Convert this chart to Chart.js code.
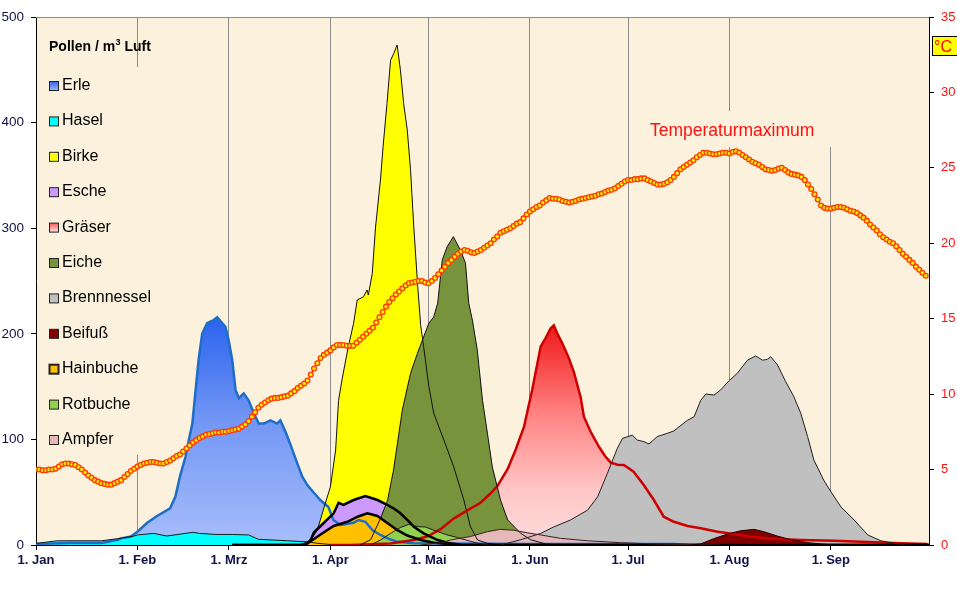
<!DOCTYPE html>
<html>
<head>
<meta charset="utf-8">
<script src="https://cdn.jsdelivr.net/npm/chart.js@4.4.1/dist/chart.umd.min.js"></script>
<style>
html,body{margin:0;padding:0;background:#fff;}
#wrap{width:957px;height:591px;position:relative;}
</style>
</head>
<body>
<div id="wrap"><canvas id="c" width="957" height="591"></canvas></div>
<script>
// ---- x axis (day of year, 0 = 1. Jan) ----
const monthStarts = [0, 31, 59, 90, 120, 151, 181, 212, 243];
const monthLabels = ['1. Jan', '1. Feb', '1. Mrz', '1. Apr', '1. Mai', '1. Jun', '1. Jul', '1. Aug', '1. Sep'];
const pollenTicks = [0, 100, 200, 300, 400, 500];
const tempTicks = [0, 5, 10, 15, 20, 25, 30, 35];

// ---- pollen series: [day, pollen / m3] ----
const erle = [[0,1],[10,2],[20,2],[25,5],[26,6.3],[29,8],[31,12.6],[34,21],[37,27.5],[41,34.7],[42.6,45.7],[44,64.7],[45.7,83.6],[46.7,99],[47.8,115],[48.7,143.6],[49.7,175],[50.8,200],[52.3,210],[54.3,213],[55.4,215.6],[56.4,212],[57.9,206.7],[58.9,194],[60,175],[61,146.8],[62,139],[63.5,143.6],[65,137],[66.6,124.7],[68.1,115],[69.6,115],[71.7,118],[73.7,115],[74.7,118],[76.3,107],[77.8,95],[79.9,77],[81.4,64.7],[82.9,57],[84.8,50],[86.9,42.6],[89.4,36],[90.9,23.7],[93.1,19],[97.1,21],[98.6,23.7],[100.7,22],[102.9,14],[105.3,9.5],[107.5,6.3],[110.5,3],[115.4,1.6],[150,1],[195,1],[200,0],[273,0]];
const hasel = [[0,1.5],[6.5,4],[20,4],[25,6],[30,8.5],[31,9.5],[36,11],[40,8.5],[48,12],[50,11],[55,10],[60,10],[65,9.5],[68,5.4],[77,4],[83,3],[86,1.6],[90,0.5],[95,0]];
const birke = [[81,0],[84,4.7],[86,14],[88,35],[90,55],[91.6,90],[92.5,137],[93.7,159],[95.5,188],[97.1,210],[98.2,232],[100.1,235],[101.2,241.5],[101.6,236.7],[102.8,257],[103.8,301],[105.3,345.6],[106.1,377],[107.3,418],[108.4,459],[109.4,465.6],[110.4,473.5],[111.4,450],[112.4,418],[113.5,393],[114.5,355],[115.5,301],[116.7,244.6],[117.6,208],[118.5,188],[120.1,150],[121.6,124.7],[124.7,99.4],[127.7,74],[130.8,42.6],[132.8,17.3],[135,4.7],[138,1.6],[142,0]];
const esche = [[60,0],[81,0],[83,1.5],[84,5],[85,12],[87,18],[91,30],[92.5,40],[94,38],[97.1,42.6],[100.7,46.4],[104.4,42.6],[106.9,38.8],[109.3,34.7],[111.4,30],[113.5,23.7],[115.5,17.3],[118.5,11],[122.8,4.7],[125.8,2.2],[130,0],[273,0]];
const graeser = [[90,0],[96,0],[108.4,1.5],[115.4,4.7],[119.6,8],[123.7,15],[127.7,25],[132,33],[135.9,40],[139,49],[141.1,56],[144.2,72],[146.6,90],[149.2,112],[151.7,147],[154.3,188],[155.8,196],[157.3,205],[158.3,208],[159.4,200],[160.9,191],[162.9,177],[164.5,163],[166.5,140],[167.5,121.5],[169.6,107],[172.1,93],[174,84],[175.7,78],[177.8,76],[179.7,75.8],[182.7,69.4],[185.8,56.8],[188.9,42.6],[191.9,26.8],[195,22],[199.2,18],[203.2,15.8],[208.4,12.6],[213.3,10.4],[218.5,7.9],[223.7,6.3],[228.6,5.4],[233.8,4.7],[244,4],[254.3,2.8],[264.4,1.6],[272.6,1]];
const eiche = [[99,0],[102.3,5],[105.3,25],[107.5,42.6],[109.3,71],[112,128],[114.5,162.6],[116.6,181.5],[118.5,197],[120.1,210],[121.6,216],[122.8,229],[124.2,270],[125.7,282.5],[127.6,292],[129.8,279],[131.3,266.8],[132.3,229],[133.4,213],[134.9,184.7],[136.5,137],[138,105.8],[139.5,74],[142,42.6],[144.2,23.7],[148.2,11],[151.2,5],[155.8,1],[160.4,0]];
const brennnessel = [[142,0],[148.2,5],[154.3,11],[158.2,17],[163.4,23.7],[168.6,33],[171.7,45.7],[174.7,68],[177.7,91.5],[179.3,101],[182.3,104],[183.8,99.4],[185.9,97.8],[187.4,95.6],[189.9,102.6],[193,105.8],[195,108],[199.1,118],[201.2,121.5],[203.2,137],[204.8,143],[207.3,142],[209.3,146.8],[211.9,155.6],[214.4,162.6],[217.5,175],[220,179],[222.1,175],[223.6,175.8],[224.6,178.3],[226.7,170.5],[229.2,154.6],[231.7,140.4],[233.8,124.7],[235.9,102.6],[237.8,80.5],[240.8,61.5],[243,50.5],[246.1,36],[250.1,23.7],[254.3,9.5],[258.3,4],[262.3,1.6],[266,0]];
const beifuss = [[200.2,0],[203.2,1],[207.2,6],[211.5,10.5],[215.5,13.5],[219.5,14.8],[222.5,12.6],[226.8,8.3],[230.8,5],[236,2.2],[239.9,1],[244.5,0]];
const hainbuche = [[60,0],[81,0],[83,1.5],[87,10],[91,18],[95.2,22],[98.3,26.8],[101.3,30],[104.4,27.5],[107.5,20.5],[110.5,14],[113.5,9],[117.6,4.7],[121.6,2.2],[125.8,1],[130,0],[273,0]];
const rotbuche = [[102.3,0],[105.3,4.7],[108.4,11],[111.4,16.5],[113.9,19.5],[116.9,17.3],[119.1,17],[121.6,14],[125.2,10],[128.9,7],[132.8,3.5],[135.9,1],[138.9,0]];
const ampfer = [[117.6,0],[123.7,2],[126.7,4.7],[132.8,8],[138,12.6],[141.9,14.8],[146,14],[150.3,11.5],[154.3,9.5],[160.4,6.3],[168.6,4],[178.7,2.2],[188.9,1],[197.1,0.5],[209.3,0]];

// ---- daily maximum temperature (°C), index = day of year from 1. Jan ----
const temperature = [
/*0*/   5.0, 5.0, 4.95, 4.95, 5.0, 5.0, 5.05,
/*7*/   5.2, 5.35, 5.4, 5.4, 5.35, 5.3,
/*13*/  5.15, 5.0, 4.8, 4.6, 4.45, 4.3,
/*19*/  4.2, 4.1, 4.05, 4.0, 4.0,
/*24*/  4.1, 4.2, 4.3, 4.5, 4.7, 4.9,
/*30*/  5.05, 5.2, 5.3, 5.4, 5.45, 5.5,
/*36*/  5.5, 5.45, 5.4, 5.4, 5.5, 5.6,
/*42*/  5.75, 5.9, 6.0, 6.2, 6.4, 6.6,
/*48*/  6.8, 6.95, 7.1, 7.2, 7.3, 7.35, 7.4,
/*55*/  7.45, 7.45, 7.5, 7.5, 7.55, 7.6, 7.65, 7.7,
/*63*/  7.85, 8.0, 8.2, 8.5, 8.8, 9.1,
/*69*/  9.3, 9.45, 9.6, 9.7, 9.75, 9.75, 9.8,
/*76*/  9.85, 9.9, 10.05, 10.2, 10.4, 10.55, 10.7, 10.9,
/*84*/  11.3, 11.7, 12.05, 12.4, 12.6, 12.75, 12.9, 13.1, 13.25,
/*93*/  13.25, 13.25, 13.2, 13.2, 13.2, 13.4, 13.6,
/*100*/ 13.8, 14.0, 14.2, 14.4, 14.75, 15.1,
/*106*/ 15.45, 15.8, 16.1, 16.35, 16.6, 16.8,
/*112*/ 17.0, 17.2, 17.35, 17.4, 17.45, 17.5, 17.5,
/*119*/ 17.4, 17.35, 17.5, 17.7, 17.95, 18.2, 18.45,
/*126*/ 18.7, 18.9, 19.1, 19.3, 19.45, 19.55,
/*132*/ 19.5, 19.4, 19.35, 19.45, 19.55, 19.7, 19.85, 20.0,
/*140*/ 20.25, 20.45, 20.7, 20.8, 20.9, 21.0,
/*146*/ 21.15, 21.3, 21.4, 21.65, 21.9, 22.1,
/*152*/ 22.25, 22.4, 22.5, 22.7, 22.85, 23.0,
/*158*/ 22.95, 22.95, 22.9, 22.8, 22.75, 22.7, 22.75, 22.8, 22.9,
/*167*/ 22.95, 23.0, 23.05, 23.1, 23.15, 23.25, 23.3,
/*174*/ 23.4, 23.5, 23.55, 23.65, 23.8, 23.95, 24.1, 24.2,
/*182*/ 24.2, 24.25, 24.25, 24.3, 24.3,
/*187*/ 24.2, 24.1, 24.0, 23.9, 23.9, 23.95, 24.05, 24.2,
/*195*/ 24.4, 24.65, 24.9, 25.05, 25.2, 25.35, 25.5,
/*202*/ 25.7, 25.85, 26.0, 26.0, 25.95, 25.9,
/*208*/ 25.9, 25.95, 26.0, 26.0, 25.95, 26.05, 26.1,
/*215*/ 26.0, 25.85, 25.7, 25.55, 25.4, 25.3, 25.2,
/*222*/ 25.05, 24.9, 24.85, 24.8, 24.85, 24.95, 25.0,
/*229*/ 24.85, 24.7, 24.6, 24.55, 24.5, 24.4,
/*235*/ 24.2, 23.9, 23.6, 23.25, 22.9, 22.5, 22.35, 22.3, 22.3,
/*244*/ 22.35, 22.4, 22.4, 22.35, 22.25, 22.15, 22.1,
/*251*/ 22.0, 21.85, 21.7, 21.5, 21.25, 21.05, 20.85,
/*258*/ 20.6, 20.4, 20.25, 20.1, 20.0, 19.8, 19.55,
/*265*/ 19.3, 19.1, 18.9, 18.7, 18.45, 18.25, 18.05, 17.85
];

const PLOT_BG = '#FBF1DC';
const FONT = '"Liberation Sans", Arial, sans-serif';
const NAVY = '#12124a';

const toXY = arr => arr.map(p => ({x: p[0], y: p[1]}));

function vGradient(chart, stops, yTopVal) {
  const a = chart.chartArea;
  if (!a) return null;
  const ys = chart.scales.y;
  const yTop = ys.getPixelForValue(yTopVal);
  const g = chart.ctx.createLinearGradient(0, yTop, 0, a.bottom);
  stops.forEach(s => g.addColorStop(s[0], s[1]));
  return g;
}
const erleStops = [[0,'#2A63EE'],[0.45,'#7296F4'],[1,'#A8BEFB']];
const graserStops = [[0,'#F01818'],[0.4,'#FF8282'],[0.75,'#FFC6C6'],[1,'#FFDCDC']];

function area(label, data, fill, border, bw, order) {
  return {label, data: toXY(data), backgroundColor: fill, borderColor: border, borderWidth: bw,
          fill: 'origin', pointRadius: 0, order, yAxisID: 'y', tension: 0};
}

const datasets = [
  {label:'Temperaturmaximum', data: temperature.map((t,i)=>({x:i,y:t})), yAxisID:'y2', fill:false,
   borderColor:'#E01000', borderWidth:1, pointRadius:2.4, pointBorderWidth:1.3,
   pointBackgroundColor:'#FFF200', pointBorderColor:'#FF3A00', order:0, tension:0},
  area('Beifuß', beifuss, '#800000', '#1a0000', 1, 1),
  area('Ampfer', ampfer, '#E6B9B8', '#3a2020', 1, 2),
  area('Brennnessel', brennnessel, '#C0C0C0', '#202020', 1, 3),
  area('Rotbuche', rotbuche, '#92D050', '#1a1a1a', 1, 4),
  area('Hainbuche', hainbuche, '#FFC000', '#000000', 2.5, 5),
  area('Eiche', eiche, '#77933C', '#111111', 1, 6),
  area('Esche', esche, '#CC99FF', '#000000', 2.5, 7),
  area('Gräser', graeser, ctx => vGradient(ctx.chart, graserStops, 208), '#CC0000', 2.5, 8),
  area('Birke', birke, '#FFFF00', '#111111', 1, 9),
  area('Hasel', hasel, '#00FFFF', '#1a1a1a', 1, 10),
  area('Erle', erle, ctx => vGradient(ctx.chart, erleStops, 215), '#1E6EC8', 2.5, 11)
];

const legendItems = [
  ['Erle', 'grad-blue'], ['Hasel', '#00FFFF'], ['Birke', '#FFFF00'], ['Esche', '#CC99FF'],
  ['Gräser', 'grad-red'], ['Eiche', '#77933C'], ['Brennnessel', '#C0C0C0'], ['Beifuß', '#800000'],
  ['Hainbuche', '#FFC000'], ['Rotbuche', '#92D050'], ['Ampfer', '#E6B9B8']
];

const decor = {
  id: 'decor',
  beforeDraw(chart) {
    const {ctx, chartArea: a} = chart;
    ctx.save();
    ctx.fillStyle = '#FFFFFF';
    ctx.fillRect(0, 0, chart.width, chart.height);
    ctx.fillStyle = PLOT_BG;
    ctx.fillRect(a.left, a.top, a.right - a.left, a.bottom - a.top);
    ctx.restore();
  },
  beforeDatasetsDraw(chart) {
    const {ctx, chartArea: a} = chart;
    ctx.save();
    ctx.fillStyle = PLOT_BG;
    // legend box and label box hide grid lines behind them
    ctx.fillRect(42, 67, 128, 388);
    ctx.fillRect(642, 111, 194, 36);
    ctx.fillRect(824, a.top + 1, 12, 111 - a.top);
    // top border
    ctx.strokeStyle = '#8c8c8c';
    ctx.lineWidth = 1;
    ctx.beginPath();
    ctx.moveTo(a.left, a.top + 0.5);
    ctx.lineTo(a.right, a.top + 0.5);
    ctx.stroke();
    ctx.restore();
  },
  afterDatasetsDraw(chart) {
    const {ctx} = chart;
    ctx.save();
    // legend title
    ctx.fillStyle = '#000';
    ctx.textBaseline = 'alphabetic';
    ctx.textAlign = 'left';
    ctx.font = 'bold 14px ' + FONT;
    let x = 49;
    const t1 = 'Pollen / m';
    ctx.fillText(t1, x, 51);
    x += ctx.measureText(t1).width;
    ctx.font = 'bold 9px ' + FONT;
    ctx.fillText('3', x + 0.5, 45);
    x += ctx.measureText('3').width + 0.5;
    ctx.font = 'bold 14px ' + FONT;
    ctx.fillText(' Luft', x, 51);
    // legend items
    legendItems.forEach((it, i) => {
      const base = 90 + 35.4 * i;
      const sy = base - 8.5, sx = 49.5;
      let fill = it[1];
      if (fill === 'grad-blue') {
        const g = ctx.createLinearGradient(0, sy, 0, sy + 9);
        g.addColorStop(0, '#3366EE'); g.addColorStop(1, '#9DB5FA'); fill = g;
      } else if (fill === 'grad-red') {
        const g = ctx.createLinearGradient(0, sy, 0, sy + 9);
        g.addColorStop(0, '#FF5A5A'); g.addColorStop(1, '#FFE0E0'); fill = g;
      }
      ctx.fillStyle = fill;
      ctx.fillRect(sx, sy, 9, 9);
      ctx.strokeStyle = '#222';
      ctx.lineWidth = it[0] === 'Hainbuche' ? 2 : 1;
      ctx.strokeRect(sx, sy, 9, 9);
      ctx.fillStyle = '#000';
      ctx.font = '16px ' + FONT;
      ctx.fillText(it[0], 62, base);
    });
    // series label
    ctx.fillStyle = '#FF1010';
    ctx.font = '17.5px ' + FONT;
    ctx.fillText('Temperaturmaximum', 650, 136);
    // unit box
    ctx.fillStyle = '#FFFF00';
    ctx.fillRect(932.5, 36.5, 26, 19);
    ctx.strokeStyle = '#000';
    ctx.lineWidth = 1;
    ctx.strokeRect(932.5, 36.5, 26, 19);
    ctx.fillStyle = '#FF0000';
    ctx.font = '16px ' + FONT;
    ctx.fillText('°C', 934, 52);
    ctx.restore();
  }
};

new Chart(document.getElementById('c'), {
  type: 'line',
  data: {datasets},
  options: {
    responsive: false,
    animation: false,
    events: [],
    layout: {padding: {top: 17, left: 0, right: 0, bottom: 0}},
    plugins: {
      legend: {display: false},
      tooltip: {enabled: false},
      filler: {drawTime: 'beforeDatasetsDraw', propagate: false}
    },
    scales: {
      x: {
        type: 'linear', min: 0, max: 273,
        afterBuildTicks: s => { s.ticks = monthStarts.map(v => ({value: v})); },
        afterFit: s => { s.height = 46; },
        ticks: {
          autoSkip: false, maxRotation: 0, minRotation: 0, padding: 3,
          color: NAVY, font: {family: FONT, size: 13, weight: 'bold'},
          callback: v => { const i = monthStarts.indexOf(v); return i >= 0 ? monthLabels[i] : ''; }
        },
        grid: {
          color: c => (c.tick && c.tick.value === 0) ? 'rgba(0,0,0,0)' : '#8c8c8c',
          tickColor: '#000', tickLength: 5, lineWidth: 1
        },
        border: {color: '#000', width: 1}
      },
      y: {
        position: 'left', min: 0, max: 500,
        afterBuildTicks: s => { s.ticks = pollenTicks.map(v => ({value: v})); },
        afterFit: s => { s.width = 36; },
        ticks: {padding: 7, color: NAVY, font: {family: FONT, size: 13.5}},
        grid: {drawOnChartArea: false, color: '#000', tickLength: 5},
        border: {color: '#000', width: 1}
      },
      y2: {
        position: 'right', min: 0, max: 35,
        afterBuildTicks: s => { s.ticks = tempTicks.map(v => ({value: v})); },
        afterFit: s => { s.width = 28; },
        ticks: {padding: 7, color: '#FF1010', font: {family: FONT, size: 13}},
        grid: {drawOnChartArea: false, color: '#000', tickLength: 5},
        border: {color: '#000', width: 1}
      }
    }
  },
  plugins: [decor]
});
</script>
</body>
</html>
